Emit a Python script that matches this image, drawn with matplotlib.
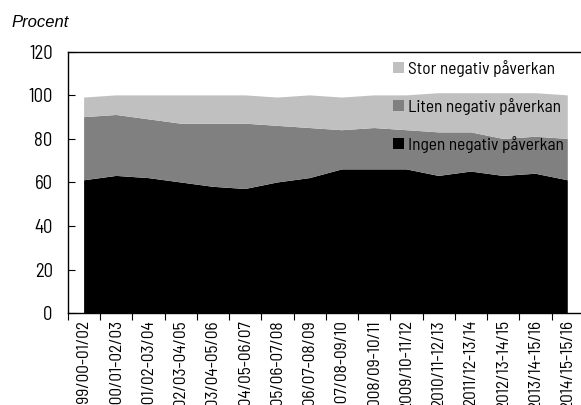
import matplotlib.pyplot as plt
import numpy as np

periods = ["1999/00-01/02", "2000/01-02/03", "2001/02-03/04", "2002/03-04/05",
           "2003/04-05/06", "2004/05-06/07", "2005/06-07/08", "2006/07-08/09",
           "2007/08-09/10", "2008/09-10/11", "2009/10-11/12", "2010/11-12/13",
           "2011/12-13/14", "2012/13-14/15", "2013/14-15/16", "2014/15-15/16"]

ingen = [61, 63, 62, 60, 58, 57, 60, 62, 66, 66, 66, 63, 65, 63, 64, 61]
liten = [29, 28, 27, 27, 29, 30, 26, 23, 18, 19, 18, 20, 18, 17, 17, 19]
stor = [9, 9, 11, 13, 13, 13, 13, 15, 15, 15, 16, 18, 18, 21, 20, 20]

labels = ["Ingen negativ påverkan", "Liten negativ påverkan", "Stor negativ påverkan"]
colors = ["#000000", "#808080", "#c0c0c0"]

plt.rcParams["font.family"] = ["Barlow Semi Condensed", "DejaVu Sans"]

fig = plt.figure(figsize=(5.81, 4.05), dpi=100)
ax = fig.add_axes([0.117, 0.227, 0.888, 0.645])

x = np.arange(len(periods))
ax.stackplot(x, ingen, liten, stor, colors=colors, labels=labels, linewidth=0)

ax.set_xlim(-0.5, len(periods) - 0.5)
ax.set_ylim(0, 120)
ax.set_yticks(range(0, 121, 20))
ax.tick_params(axis="y", direction="in", length=5, labelsize=13.5, pad=11)

# category boundaries get the tick marks, centres get the labels
ax.set_xticks(x - 0.5, minor=False)
ax.set_xticklabels([])
ax.tick_params(axis="x", which="major", direction="out", length=5)
ax.set_xticks(x, minor=True)
ax.set_xticklabels(periods, minor=True, rotation=90, fontsize=12.5)
ax.tick_params(axis="x", which="minor", length=0, pad=5)

ax.spines["right"].set_visible(False)
for s in ("left", "top", "bottom"):
    ax.spines[s].set_linewidth(1.0)

handles, labs = ax.get_legend_handles_labels()
ax.legend(handles[::-1], labs[::-1], loc="upper left", bbox_to_anchor=(0.630, 0.970),
          frameon=False, fontsize=12.5, handlelength=0.62, handleheight=0.62,
          handletextpad=0.25, labelspacing=1.22, borderpad=0, borderaxespad=0)

fig.text(0.019, 0.934, "Procent", fontsize=12, style="italic", va="baseline",
         family=["Liberation Sans", "DejaVu Sans"])

fig.savefig("out.png", dpi=100)
